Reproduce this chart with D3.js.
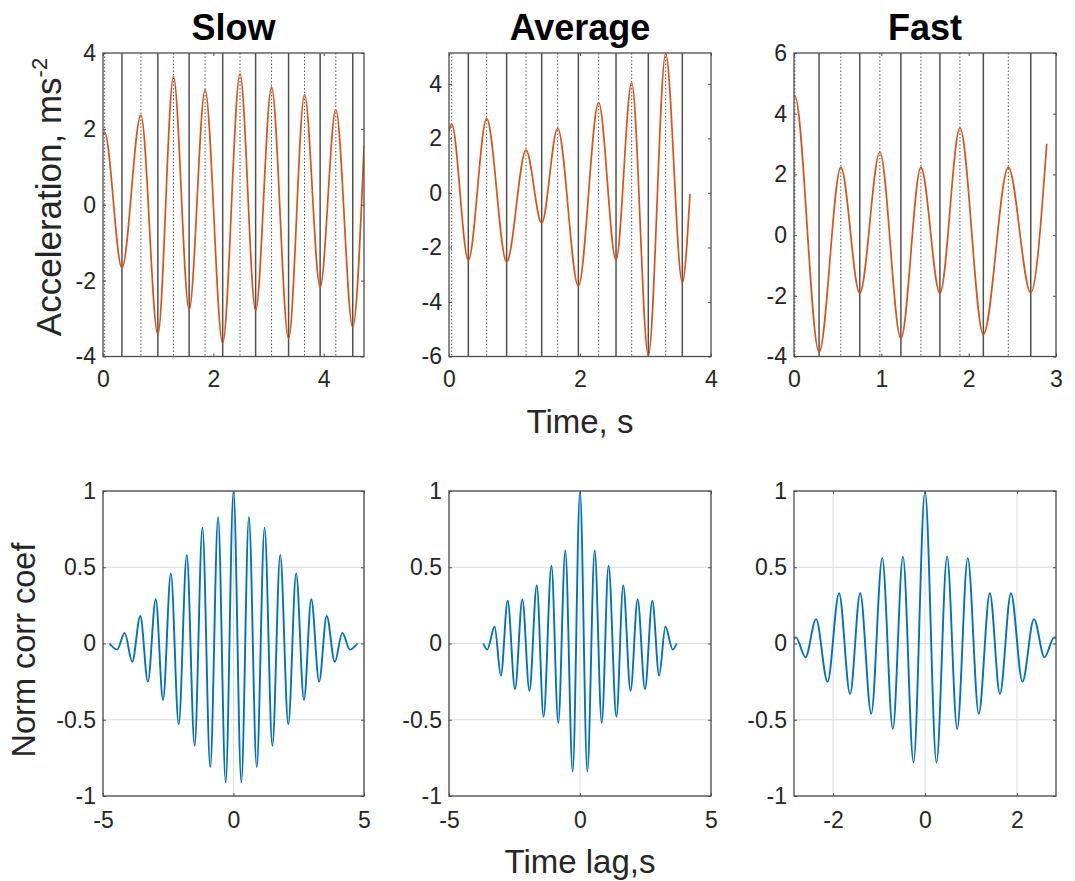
<!DOCTYPE html>
<html><head><meta charset="utf-8">
<script src="https://cdn.jsdelivr.net/npm/d3@7"></script>
<style>
body{margin:0;background:#fff}
text{font-family:"Liberation Sans",Arial,Helvetica,sans-serif}
</style>
</head><body>
<svg id="c" width="1075" height="881"></svg>
<script>
// ---------- DATA ----------
const titles = ["Slow", "Average", "Fast"];

// Top row: acceleration extrema (time s, value m/s^2)
const slowTime = [0, 0.03, 0.343, 0.687, 0.994, 1.277, 1.561, 1.850, 2.169, 2.483, 2.766, 3.055, 3.363, 3.652, 3.935, 4.219, 4.526, 4.731];
const slowAcc  = [1.85, 1.9, -1.67, 2.36, -3.42, 3.38, -2.77, 3.03, -3.65, 3.45, -2.79, 3.10, -3.53, 2.90, -2.17, 2.51, -3.23, 1.56];
const slowMinT = [0.343, 0.994, 1.561, 2.169, 2.766, 3.363, 3.935, 4.526];
const slowMaxT = [0.03, 0.687, 1.277, 1.850, 2.483, 3.055, 3.652, 4.219];

const avgTime = [0, 0.041, 0.295, 0.575, 0.880, 1.176, 1.415, 1.659, 1.975, 2.285, 2.550, 2.789, 3.043, 3.308, 3.562, 3.679];
const avgAcc  = [2.27, 2.52, -2.47, 2.72, -2.53, 1.57, -1.11, 2.37, -3.42, 3.31, -2.47, 4.04, -5.97, 5.11, -3.29, -0.04];
const avgMinT = [0.295, 0.880, 1.415, 1.975, 2.550, 3.043, 3.562];
const avgMaxT = [0.041, 0.575, 1.176, 1.659, 2.285, 2.789, 3.308];

const fastTime = [0, 0.01, 0.287, 0.536, 0.753, 0.983, 1.224, 1.453, 1.671, 1.900, 2.168, 2.454, 2.711, 2.894];
const fastAcc  = [4.55, 4.58, -3.86, 2.23, -1.92, 2.73, -3.41, 2.23, -1.92, 3.53, -3.27, 2.23, -1.90, 3.01];
const fastMinT = [0.287, 0.753, 1.224, 1.671, 2.168, 2.711];
const fastMaxT = [0.01, 0.536, 0.983, 1.453, 1.900, 2.454];

// Bottom row: normalised autocorrelation extrema (lag s, coef)
const slowLag  = [-4.75, -4.46, -4.17, -3.88, -3.57, -3.28, -2.98, -2.70, -2.40, -2.10, -1.79, -1.49, -1.19, -0.89, -0.59, -0.30, 0, 0.30, 0.59, 0.89, 1.19, 1.49, 1.79, 2.10, 2.40, 2.70, 2.98, 3.28, 3.57, 3.88, 4.17, 4.46, 4.75];
const slowCorr = [0, -0.04, 0.07, -0.12, 0.18, -0.25, 0.29, -0.37, 0.46, -0.53, 0.58, -0.67, 0.76, -0.81, 0.83, -0.91, 1, -0.91, 0.83, -0.81, 0.76, -0.67, 0.58, -0.53, 0.46, -0.37, 0.29, -0.25, 0.18, -0.12, 0.07, -0.04, 0];

const avgLag  = [-3.69, -3.54, -3.26, -3.02, -2.76, -2.48, -2.20, -1.93, -1.65, -1.39, -1.09, -0.83, -0.56, -0.28, 0, 0.28, 0.56, 0.83, 1.09, 1.39, 1.65, 1.93, 2.20, 2.48, 2.76, 3.02, 3.26, 3.54, 3.69];
const avgCorr = [0, -0.04, 0.11, -0.21, 0.28, -0.30, 0.29, -0.31, 0.38, -0.48, 0.51, -0.52, 0.61, -0.84, 1, -0.84, 0.61, -0.52, 0.51, -0.48, 0.38, -0.31, 0.29, -0.30, 0.28, -0.21, 0.11, -0.04, 0];

const fastLag  = [-2.85, -2.81, -2.60, -2.37, -2.12, -1.87, -1.63, -1.41, -1.17, -0.93, -0.70, -0.48, -0.25, 0, 0.25, 0.48, 0.70, 0.93, 1.17, 1.41, 1.63, 1.87, 2.12, 2.37, 2.60, 2.81, 2.85];
const fastCorr = [0.03, 0.04, -0.09, 0.16, -0.25, 0.33, -0.33, 0.33, -0.46, 0.56, -0.56, 0.57, -0.78, 1, -0.78, 0.57, -0.56, 0.56, -0.46, 0.33, -0.33, 0.33, -0.25, 0.16, -0.09, 0.04, 0.03];

// Axis limits and tick values
const topXDomains = [[0, 4.73], [0, 4], [0, 3]];
const topYDomains = [[-4, 4], [-6, 5.13], [-4, 6]];
const topXTicks = [[0, 2, 4], [0, 2, 4], [0, 1, 2, 3]];
const topYTicks = [[-4, -2, 0, 2, 4], [-6, -4, -2, 0, 2, 4], [-4, -2, 0, 2, 4, 6]];
const botXDomains = [[-5, 5], [-5, 5], [-2.85, 2.85]];
const botYDomain = [-1, 1];
const botXTicks = [[-5, 0, 5], [-5, 0, 5], [-2, 0, 2]];
const botYTicks = [-1, -0.5, 0, 0.5, 1];

// ---------- LAYOUT ----------
const colX = [[103, 364], [449, 711], [794, 1056]];
const topRowY = [53, 356.5];
const botRowY = [491, 796];
const ORANGE = "#D95319", BLUE = "#0072BD";
const AX = "#4d4d4d", TXT = "#262626";
const FONT = '"Liberation Sans",Arial,sans-serif';

const svg = d3.select("#c");
let clipId = 0;

function panel(o) {
  const x = d3.scaleLinear().domain(o.xd).range([o.x0, o.x1]);
  const y = d3.scaleLinear().domain(o.yd).range([o.y1, o.y0]);
  const g = svg.append("g");
  const id = "clip" + (clipId++);
  g.append("clipPath").attr("id", id).append("rect")
    .attr("x", o.x0).attr("y", o.y0).attr("width", o.x1 - o.x0).attr("height", o.y1 - o.y0);

  if (o.grid) {
    g.append("g").selectAll("line").data(o.yt).join("line")
      .attr("x1", o.x0).attr("x2", o.x1).attr("y1", d => y(d)).attr("y2", d => y(d))
      .attr("stroke", "#dcdcdc").attr("stroke-width", 1);
    g.append("g").selectAll("line").data(o.xt).join("line")
      .attr("y1", o.y0).attr("y2", o.y1).attr("x1", d => x(d)).attr("x2", d => x(d))
      .attr("stroke", "#dcdcdc").attr("stroke-width", 1);
  }
  if (o.solid) {
    g.append("g").selectAll("line").data(o.solid).join("line")
      .attr("x1", d => x(d)).attr("x2", d => x(d)).attr("y1", o.y0).attr("y2", o.y1)
      .attr("stroke", "#505050").attr("stroke-width", 1.5);
  }
  if (o.dotted) {
    g.append("g").selectAll("line").data(o.dotted).join("line")
      .attr("x1", d => x(d)).attr("x2", d => x(d)).attr("y1", o.y0).attr("y2", o.y1)
      .attr("stroke", "#555").attr("stroke-width", 1).attr("stroke-dasharray", "1.5,2");
  }
  const pts = o.xs.map((v, i) => [v, o.ys[i]]);
  g.append("path").datum(pts)
    .attr("clip-path", `url(#${id})`)
    .attr("d", d3.line().x(d => x(d[0])).y(d => y(d[1])).curve(d3.curveMonotoneX))
    .attr("fill", "none").attr("stroke", o.color).attr("stroke-width", o.lw);

  const fmt = d => String(d);
  const bottom = d3.axisBottom(x).tickValues(o.xt).tickFormat(fmt).tickSizeInner(-3).tickSizeOuter(0).tickPadding(o.xpad);
  const left = d3.axisLeft(y).tickValues(o.yt).tickFormat(fmt).tickSizeInner(-3).tickSizeOuter(0).tickPadding(7);
  const top = d3.axisTop(x).tickValues(o.xt).tickFormat("").tickSizeInner(-3).tickSizeOuter(0);
  const right = d3.axisRight(y).tickValues(o.yt).tickFormat("").tickSizeInner(-3).tickSizeOuter(0);
  const ax = [
    g.append("g").attr("transform", `translate(0,${o.y1})`).call(bottom),
    g.append("g").attr("transform", `translate(${o.x0},0)`).call(left),
    g.append("g").attr("transform", `translate(0,${o.y0})`).call(top),
    g.append("g").attr("transform", `translate(${o.x1},0)`).call(right)
  ];
  ax.forEach(a => {
    a.select(".domain").remove();
    a.selectAll(".tick line").attr("stroke", AX).attr("stroke-width", 1);
    a.selectAll(".tick text").attr("fill", TXT).style("font-size", "23px").style("font-family", FONT);
  });
  g.append("rect").attr("x", o.x0).attr("y", o.y0)
    .attr("width", o.x1 - o.x0).attr("height", o.y1 - o.y0)
    .attr("fill", "none").attr("stroke", AX).attr("stroke-width", 1.3);
}

const topSeries = [
  [slowTime, slowAcc, slowMinT, slowMaxT],
  [avgTime, avgAcc, avgMinT, avgMaxT],
  [fastTime, fastAcc, fastMinT, fastMaxT]
];
const botSeries = [[slowLag, slowCorr], [avgLag, avgCorr], [fastLag, fastCorr]];

for (let i = 0; i < 3; i++) {
  panel({
    x0: colX[i][0], x1: colX[i][1], y0: topRowY[0], y1: topRowY[1],
    xd: topXDomains[i], yd: topYDomains[i], xt: topXTicks[i], yt: topYTicks[i],
    xs: topSeries[i][0], ys: topSeries[i][1], solid: topSeries[i][2], dotted: topSeries[i][3],
    color: ORANGE, lw: 1.7, grid: false, xpad: 14
  });
  panel({
    x0: colX[i][0], x1: colX[i][1], y0: botRowY[0], y1: botRowY[1],
    xd: botXDomains[i], yd: botYDomain, xt: botXTicks[i], yt: botYTicks,
    xs: botSeries[i][0], ys: botSeries[i][1],
    color: BLUE, lw: 1.9, grid: true, xpad: 16
  });
  svg.append("text").attr("x", (colX[i][0] + colX[i][1]) / 2).attr("y", 40)
    .attr("text-anchor", "middle").style("font-size", "36px").style("font-weight", "bold")
    .attr("fill", "#000").text(titles[i]);
}

// Axis labels
svg.append("text").attr("x", 580).attr("y", 433).attr("text-anchor", "middle")
  .style("font-size", "33px").attr("fill", TXT).text("Time, s");
svg.append("text").attr("x", 580).attr("y", 873).attr("text-anchor", "middle")
  .style("font-size", "33px").attr("fill", TXT).text("Time lag,s");

const yl1 = svg.append("text").attr("transform", "translate(61,197) rotate(-90)")
  .attr("text-anchor", "middle").style("font-size", "35px").attr("fill", TXT);
yl1.append("tspan").text("Acceleration, ms");
yl1.append("tspan").attr("dy", -14).style("font-size", "22px").text("-2");

svg.append("text").attr("transform", "translate(35,650) rotate(-90)")
  .attr("text-anchor", "middle").style("font-size", "32.5px").attr("fill", TXT).text("Norm corr coef");
</script>
</body></html>
